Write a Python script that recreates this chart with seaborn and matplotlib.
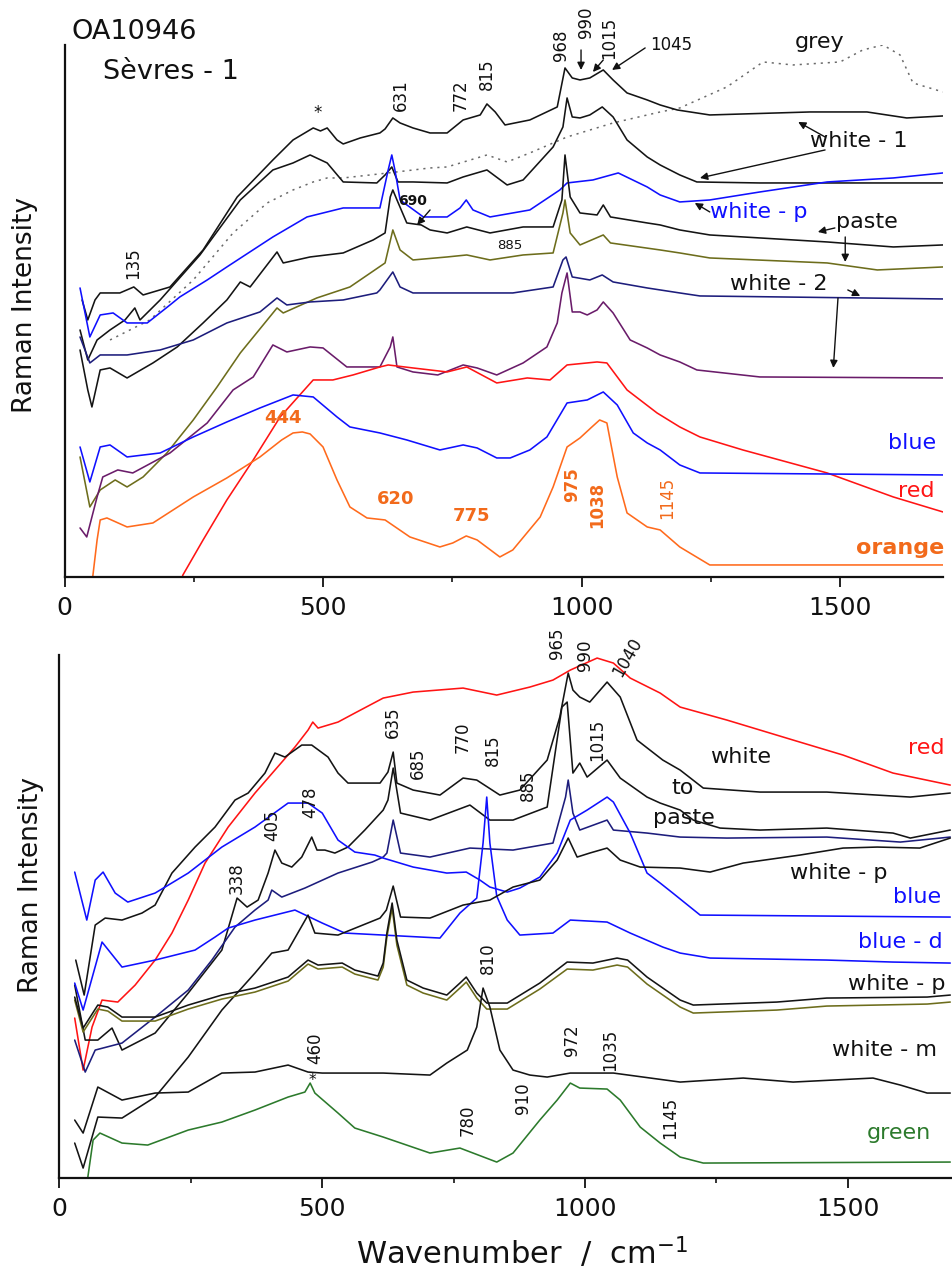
import matplotlib
matplotlib.use("Agg")
import matplotlib.pyplot as plt
import seaborn as sns
import pandas as pd

# ---------------- spectra (wavenumber / cm-1, relative intensity) ----------------
# upper panel : OA10946, Sevres - 1
top_white1_a = [(34, 277), (45, 257), (59, 277), (69, 284), (107, 284), (134, 290), (152, 282), (204, 290),
                (268, 327), (334, 380), (403, 417), (442, 437), (481, 449), (495, 446), (508, 449), (527, 437),
                (539, 433), (572, 439), (610, 444), (620, 448), (635, 459), (649, 454), (674, 449), (707, 444),
                (740, 444), (771, 457), (804, 462), (817, 473), (833, 465), (852, 452), (900, 457), (953, 470),
                (968, 509), (982, 499), (997, 497), (1016, 499), (1042, 507), (1061, 497), (1088, 484),
                (1127, 477), (1152, 472), (1185, 467), (1248, 462), (1442, 465), (1552, 465), (1629, 459),
                (1699, 461)]
top_white1_b = [(30, 247), (45, 217), (63, 237), (88, 247), (117, 257), (136, 269), (146, 257), (185, 277),
                (262, 322), (340, 377), (403, 407), (442, 414), (475, 422), (508, 414), (539, 395), (604, 394),
                (620, 402), (633, 410), (645, 395), (674, 395), (740, 394), (771, 400), (817, 407), (856, 392),
                (887, 397), (945, 430), (964, 450), (972, 479), (982, 460), (997, 459), (1016, 462), (1040, 470),
                (1061, 460), (1088, 437), (1127, 420), (1152, 412), (1190, 402), (1223, 395), (1345, 394),
                (1699, 394)]
top_grey = [(88, 237), (165, 257), (249, 297), (326, 344), (392, 374), (442, 387), (481, 395), (508, 399),
            (539, 399), (626, 404), (707, 409), (740, 410), (817, 422), (856, 415), (900, 424), (945, 434),
            (972, 440), (1061, 454), (1152, 465), (1190, 469), (1281, 490), (1351, 515), (1409, 512),
            (1500, 515), (1544, 527), (1583, 532), (1616, 522), (1641, 494), (1699, 485)]
top_white_p = [(30, 289), (49, 240), (69, 262), (94, 264), (121, 254), (160, 254), (204, 272), (223, 280),
               (276, 297), (314, 310), (403, 340), (469, 360), (539, 369), (610, 369), (626, 407), (633, 422),
               (639, 407), (649, 377), (694, 360), (740, 360), (765, 369), (777, 377), (790, 367), (823, 360),
               (900, 367), (958, 387), (972, 394), (1022, 397), (1071, 404), (1127, 390), (1152, 382),
               (1190, 375), (1248, 377), (1345, 385), (1475, 395), (1603, 399), (1699, 404)]
top_paste_black = [(30, 227), (45, 187), (53, 170), (69, 207), (88, 209), (121, 199), (171, 214), (218, 230),
                   (268, 254), (314, 277), (340, 295), (359, 290), (411, 325), (423, 314), (475, 320),
                   (539, 324), (597, 337), (620, 344), (630, 380), (635, 387), (643, 377), (662, 354),
                   (690, 352), (707, 347), (740, 344), (778, 350), (823, 344), (887, 350), (945, 350),
                   (962, 377), (968, 422), (978, 380), (997, 364), (1030, 362), (1042, 372), (1056, 360),
                   (1127, 354), (1152, 352), (1190, 347), (1248, 342), (1475, 335), (1603, 330), (1699, 332)]
top_paste_olive = [(30, 120), (49, 70), (69, 87), (98, 97), (121, 90), (152, 100), (198, 124), (249, 157),
                   (295, 190), (340, 224), (411, 269), (423, 264), (488, 279), (552, 290), (620, 314),
                   (635, 347), (649, 327), (674, 317), (740, 320), (778, 322), (823, 317), (887, 322),
                   (945, 324), (964, 364), (968, 377), (978, 344), (997, 332), (1042, 342), (1056, 334),
                   (1152, 327), (1190, 324), (1248, 319), (1475, 314), (1572, 307), (1699, 310)]
top_white2_navy = [(30, 240), (49, 214), (69, 222), (121, 222), (185, 227), (249, 237), (314, 254), (378, 265),
                   (411, 279), (430, 272), (475, 275), (539, 277), (604, 284), (610, 287), (635, 305),
                   (649, 290), (674, 284), (740, 284), (804, 284), (867, 284), (945, 290), (964, 317),
                   (970, 320), (982, 300), (1016, 297), (1040, 302), (1061, 295), (1127, 289), (1190, 284),
                   (1229, 281), (1699, 278)]
top_white2_purple = [(30, 49), (43, 40), (63, 80), (74, 100), (103, 107), (132, 104), (204, 124), (276, 154),
                     (326, 187), (365, 200), (403, 232), (430, 225), (475, 230), (500, 229), (546, 210),
                     (610, 210), (630, 230), (635, 240), (643, 210), (674, 205), (722, 202), (771, 212),
                     (798, 209), (836, 202), (887, 214), (933, 230), (953, 254), (962, 284), (972, 304),
                     (982, 265), (997, 265), (1011, 262), (1030, 267), (1042, 275), (1061, 264), (1094, 237),
                     (1127, 229), (1152, 222), (1190, 215), (1223, 207), (1345, 200), (1699, 199)]
top_red = [(220, -12), (229, 2), (268, 37), (314, 77), (365, 117), (417, 160), (481, 197), (519, 197),
           (558, 202), (610, 210), (626, 212), (674, 209), (740, 205), (778, 210), (836, 194), (895, 199),
           (939, 197), (972, 212), (1030, 215), (1049, 214), (1088, 187), (1146, 164), (1190, 150),
           (1229, 140), (1312, 127), (1475, 104), (1603, 80), (1699, 65)]
top_blue = [(30, 130), (49, 95), (69, 130), (88, 132), (121, 120), (185, 124), (249, 140), (314, 155),
            (378, 169), (442, 182), (481, 180), (527, 160), (552, 150), (610, 144), (662, 137), (726, 127),
            (771, 132), (798, 129), (836, 119), (862, 119), (900, 127), (933, 140), (972, 174), (1011, 177),
            (1042, 185), (1069, 172), (1100, 144), (1127, 134), (1152, 127), (1190, 112), (1229, 104),
            (1699, 102)]
top_orange = [(52, -12), (55, 2), (63, 37), (69, 57), (82, 59), (121, 50), (171, 54), (249, 80), (314, 99),
              (378, 120), (420, 137), (442, 144), (460, 145), (475, 143), (500, 130), (527, 97), (552, 70),
              (585, 59), (620, 57), (668, 40), (726, 30), (751, 34), (777, 41), (798, 37), (842, 20), (867, 27),
              (920, 60), (945, 90), (972, 130), (997, 139), (1020, 150), (1035, 157), (1049, 154), (1069, 100),
              (1088, 64), (1127, 50), (1152, 47), (1190, 30), (1248, 12), (1699, 12)]

# lower panel
bot_red = [(29, 160), (45, 108), (62, 151), (81, 178), (111, 176), (144, 193), (182, 218), (214, 245),
           (245, 278), (277, 315), (321, 351), (372, 385), (410, 408), (448, 431), (473, 448), (482, 456),
           (492, 450), (530, 456), (562, 465), (616, 480), (673, 486), (768, 490), (832, 483), (895, 491),
           (939, 498), (972, 508), (1023, 520), (1054, 515), (1086, 500), (1143, 485), (1181, 471),
           (1270, 458), (1396, 438), (1491, 423), (1586, 405), (1695, 393)]
bot_white = [(31, 218), (47, 183), (68, 253), (87, 260), (119, 258), (157, 265), (182, 273), (214, 305),
             (258, 331), (296, 351), (334, 378), (359, 385), (391, 405), (410, 425), (429, 421), (461, 433),
             (480, 433), (511, 421), (530, 405), (549, 395), (610, 395), (625, 406), (635, 426), (642, 395),
             (673, 388), (724, 383), (768, 400), (794, 398), (838, 383), (876, 388), (928, 418), (952, 461),
             (968, 505), (977, 488), (990, 481), (1009, 476), (1042, 496), (1067, 481), (1099, 438),
             (1148, 418), (1181, 408), (1225, 390), (1333, 386), (1460, 386), (1619, 381), (1695, 385)]
bot_to_paste = [(29, 193), (49, 138), (73, 138), (100, 150), (119, 128), (182, 145), (245, 185), (309, 228),
                (338, 280), (357, 271), (378, 278), (397, 305), (410, 328), (423, 315), (442, 311), (461, 321),
                (480, 341), (490, 328), (505, 328), (524, 325), (549, 331), (581, 348), (616, 368), (625, 378),
                (635, 410), (649, 365), (705, 358), (781, 373), (819, 358), (863, 358), (928, 371), (956, 471),
                (966, 476), (977, 405), (990, 415), (1004, 401), (1042, 418), (1067, 400), (1118, 381),
                (1143, 375), (1181, 368), (1206, 358), (1257, 350), (1333, 348), (1460, 350), (1586, 345),
                (1619, 340), (1695, 348)]
bot_navy = [(29, 138), (49, 106), (68, 128), (119, 135), (182, 161), (245, 188), (290, 218), (334, 251),
            (372, 268), (397, 278), (404, 288), (423, 281), (467, 290), (530, 305), (595, 316), (616, 321),
            (623, 325), (635, 358), (649, 325), (705, 321), (781, 330), (863, 328), (939, 335), (963, 381),
            (968, 398), (977, 365), (990, 348), (1042, 358), (1054, 348), (1118, 345), (1181, 341),
            (1270, 340), (1460, 341), (1600, 336), (1695, 341)]
bot_blue = [(29, 306), (52, 258), (68, 298), (83, 306), (106, 285), (130, 276), (182, 285), (245, 305),
            (309, 331), (372, 351), (435, 375), (473, 375), (500, 365), (530, 338), (562, 326), (600, 323),
            (616, 320), (673, 311), (737, 305), (774, 306), (800, 298), (819, 291), (852, 286), (876, 290),
            (914, 301), (947, 325), (972, 358), (1004, 368), (1042, 381), (1054, 376), (1086, 345),
            (1118, 305), (1143, 295), (1167, 285), (1219, 263), (1695, 261)]
bot_blue_d = [(29, 195), (45, 168), (81, 236), (119, 211), (182, 218), (258, 228), (296, 241), (321, 250),
              (372, 258), (448, 268), (500, 255), (543, 245), (616, 243), (724, 240), (762, 265), (794, 280),
              (806, 335), (813, 381), (819, 335), (832, 282), (852, 258), (876, 243), (939, 245), (972, 258),
              (1042, 256), (1086, 245), (1148, 231), (1181, 225), (1238, 220), (1460, 218), (1586, 216),
              (1695, 215)]
bot_white_p = [(29, 35), (45, 10), (73, 61), (119, 60), (182, 81), (245, 121), (309, 168), (372, 205),
               (404, 225), (435, 228), (473, 263), (486, 245), (530, 243), (610, 260), (622, 268), (635, 292),
               (649, 261), (705, 260), (768, 273), (819, 278), (863, 291), (914, 298), (947, 318), (968, 340),
               (985, 321), (1009, 325), (1042, 330), (1067, 318), (1105, 311), (1181, 310), (1238, 306),
               (1301, 315), (1409, 323), (1491, 330), (1556, 331), (1637, 330), (1695, 340)]
bot_white_p2_black = [(29, 181), (45, 150), (73, 173), (92, 171), (119, 161), (182, 161), (245, 173),
                      (309, 183), (372, 190), (435, 201), (473, 218), (492, 213), (538, 215), (562, 208),
                      (606, 202), (616, 215), (623, 245), (633, 275), (642, 238), (661, 198), (692, 190),
                      (737, 183), (762, 195), (774, 201), (794, 185), (813, 175), (852, 175), (914, 195),
                      (966, 216), (1015, 215), (1061, 220), (1081, 218), (1118, 201), (1181, 178), (1206, 173),
                      (1365, 176), (1460, 180), (1651, 181), (1695, 183)]
bot_white_p2_olive = [(29, 178), (45, 146), (73, 169), (92, 167), (119, 157), (182, 157), (245, 169),
                      (309, 179), (372, 186), (435, 197), (473, 214), (492, 209), (538, 211), (562, 204),
                      (606, 198), (616, 211), (623, 241), (633, 270), (642, 233), (661, 193), (692, 185),
                      (737, 178), (762, 190), (774, 196), (794, 180), (813, 169), (852, 169), (914, 189),
                      (966, 209), (1015, 208), (1061, 213), (1081, 211), (1118, 194), (1181, 171), (1206, 165),
                      (1365, 168), (1460, 172), (1651, 174), (1695, 176)]
bot_white_m = [(29, 58), (45, 45), (73, 91), (119, 78), (182, 85), (245, 86), (309, 105), (372, 106),
               (435, 113), (473, 106), (500, 105), (616, 105), (705, 103), (737, 115), (776, 128), (794, 151),
               (806, 190), (819, 171), (838, 128), (863, 108), (895, 103), (928, 101), (972, 105), (1054, 105),
               (1181, 96), (1301, 100), (1396, 96), (1548, 100), (1600, 93), (1651, 85), (1695, 85)]
bot_green = [(50, -10), (54, 1), (64, 38), (77, 45), (119, 35), (168, 33), (245, 48), (309, 56), (372, 68),
             (435, 81), (467, 86), (477, 95), (486, 85), (530, 65), (562, 50), (616, 41), (705, 25), (762, 30),
             (787, 25), (832, 16), (863, 25), (914, 58), (947, 78), (972, 95), (990, 90), (1042, 89),
             (1067, 78), (1105, 51), (1143, 35), (1181, 21), (1225, 15), (1695, 16)]

XTICKS = [0, 500, 1000, 1500]
XMINOR = [250, 750, 1250]

BLACK = "#141414"
BLUE = "#1010ff"
NAVY = "#1d1d7c"
OLIVE = "#6d6d1c"
PURPLE = "#6a1c6a"
RED = "#ff1414"
ORANGE = "#ff6a1c"
ORANGE_TXT = "#f26a1b"
GREEN = "#2c7a2c"
GREY = "#6a6a6a"

sns.set_theme(style="white")
plt.rcParams["font.family"] = ["DejaVu Sans"]

fig = plt.figure(figsize=(9.53, 12.7), dpi=100)
ax_top = fig.add_axes([0.0677, 0.5457, 0.9223, 0.4189])
ax_bot = fig.add_axes([0.0624, 0.0724, 0.9375, 0.4118])


def draw(ax, pts, color, ls="-", lw=1.15):
    df = pd.DataFrame(pts, columns=["wn", "I"])
    sns.lineplot(data=df, x="wn", y="I", ax=ax, color=color, lw=lw, linestyle=ls,
                 sort=False, estimator=None)


draw(ax_top, top_grey, GREY, ls=(0, (1.4, 3.2)), lw=1.1)
for pts, c in [(top_white1_a, BLACK), (top_white1_b, BLACK), (top_white_p, BLUE),
               (top_paste_black, BLACK), (top_paste_olive, OLIVE), (top_white2_navy, NAVY),
               (top_white2_purple, PURPLE), (top_red, RED), (top_blue, BLUE), (top_orange, ORANGE)]:
    draw(ax_top, pts, c)

for pts, c in [(bot_red, RED), (bot_white, BLACK), (bot_to_paste, BLACK), (bot_navy, NAVY),
               (bot_blue, BLUE), (bot_blue_d, BLUE), (bot_white_p, BLACK), (bot_white_p2_olive, OLIVE),
               (bot_white_p2_black, BLACK), (bot_white_m, BLACK), (bot_green, GREEN)]:
    draw(ax_bot, pts, c)

for ax, ytop in [(ax_top, 532), (ax_bot, 523)]:
    ax.set_xlim(0, 1700)
    ax.set_ylim(0, ytop)
    ax.set_yticks([])
    ax.set_xticks(XTICKS)
    ax.set_xticks(XMINOR, minor=True)
    ax.set_xlabel("")
    ax.set_ylabel("")
    ax.tick_params(axis="x", which="major", direction="out", length=7, width=1.3, labelsize=18,
                   pad=7, colors="#111111", bottom=True)
    ax.tick_params(axis="x", which="minor", direction="out", length=3.5, width=1.3, bottom=True)
    for side in ["top", "right"]:
        ax.spines[side].set_visible(False)
    for side in ["left", "bottom"]:
        ax.spines[side].set_color("#111111")
        ax.spines[side].set_linewidth(1.6)
    ax.set_facecolor("white")

fig.text(0.026, 0.760, "Raman Intensity", rotation=90, fontsize=19, ha="center", va="center",
         color="#111111")
fig.text(0.033, 0.303, "Raman Intensity", rotation=90, fontsize=19, ha="center", va="center",
         color="#111111")
fig.text(0.548, 0.0135, "Wavenumber  /  cm$^{-1}$", fontsize=22, ha="center", va="center",
         color="#111111")


def txt(ax, x, y, s, size=16, color="#111111", rot=0, ha="left", weight="normal"):
    ax.text(x, y, s, fontsize=size, color=color, rotation=rot, ha=ha, va="center",
            fontweight=weight, clip_on=False)


def arrow(ax, xy_from, xy_to):
    ax.annotate("", xy=xy_to, xytext=xy_from,
                arrowprops=dict(arrowstyle="-|>", color="#111111", lw=1.0, mutation_scale=11,
                                shrinkA=0, shrinkB=0), annotation_clip=False)


# upper panel annotations
t = ax_top
txt(t, 14, 545, "OA10946", size=19.5)
txt(t, 74, 505, "Sèvres - 1", size=19.5)
txt(t, 490, 464, "*", size=12, ha="center")
for x, y, s in [(132, 314, "135"), (651, 482, "631"), (767, 482, "772"), (817, 503, "815"),
                (960, 532, "968"), (1009, 555, "990"), (1053, 539, "1015")]:
    txt(t, x, y, s, size=12, rot=90, ha="center")
txt(t, 1133, 532, "1045", size=12)
txt(t, 1413, 535, "grey")
txt(t, 1442, 436, "white - 1")
txt(t, 674, 376, "690", size=10, ha="center", weight="bold")
txt(t, 862, 331, "885", size=9.5, ha="center")
txt(t, 1248, 365, "white - p", color=BLUE)
txt(t, 1492, 355, "paste")
txt(t, 1287, 293, "white - 2")
txt(t, 1593, 134, "blue", color=BLUE)
txt(t, 1612, 86, "red", color=RED)
txt(t, 1531, 29, "orange", color=ORANGE_TXT, weight="bold")
txt(t, 423, 159, "444", size=13, color=ORANGE_TXT, ha="center", weight="bold")
txt(t, 641, 78, "620", size=13, color=ORANGE_TXT, ha="center", weight="bold")
txt(t, 788, 61, "775", size=13, color=ORANGE_TXT, ha="center", weight="bold")
txt(t, 982, 92, "975", size=12, color=ORANGE_TXT, rot=90, ha="center", weight="bold")
txt(t, 1030, 72, "1038", size=12, color=ORANGE_TXT, rot=90, ha="center", weight="bold")
txt(t, 1165, 79, "1145", size=12, color=ORANGE_TXT, rot=90, ha="center")

arrow(t, (999, 527), (999, 507))
arrow(t, (1042, 517), (1022, 505))
arrow(t, (1123, 529), (1059, 507))
arrow(t, (1471, 440), (1419, 455))
arrow(t, (1471, 427), (1229, 399))
arrow(t, (1248, 365), (1219, 374))
arrow(t, (1490, 349), (1457, 345))
arrow(t, (1510, 340), (1510, 315))
arrow(t, (1515, 287), (1539, 281))
arrow(t, (1496, 279), (1487, 209))
arrow(t, (707, 367), (682, 352))

# lower panel annotations
b = ax_bot
for x, y, s in [(947, 535, "965"), (1000, 523, "990"), (635, 456, "635"), (682, 415, "685"),
                (768, 441, "770"), (825, 428, "815"), (892, 393, "885"), (1023, 438, "1015"),
                (338, 300, "338"), (404, 353, "405"), (477, 376, "478"), (486, 130, "460"),
                (815, 220, "810"), (777, 58, "780"), (882, 80, "910"), (975, 138, "972"),
                (1048, 128, "1035"), (1162, 60, "1145")]:
    txt(b, x, y, s, size=12, rot=90, ha="center")
txt(b, 1080, 521, "1040", size=12, rot=60, ha="center")
txt(b, 482, 98, "*", size=11, ha="center")
txt(b, 1238, 421, "white")
txt(b, 1165, 390, "to")
txt(b, 1130, 360, "paste")
txt(b, 1615, 430, "red", color=RED)
txt(b, 1390, 305, "white - p")
txt(b, 1586, 281, "blue", color=BLUE)
txt(b, 1520, 236, "blue - d", color=BLUE)
txt(b, 1501, 194, "white - p")
txt(b, 1470, 128, "white - m")
txt(b, 1537, 45, "green", color=GREEN)

fig.savefig("out.png", dpi=100, facecolor="white")
